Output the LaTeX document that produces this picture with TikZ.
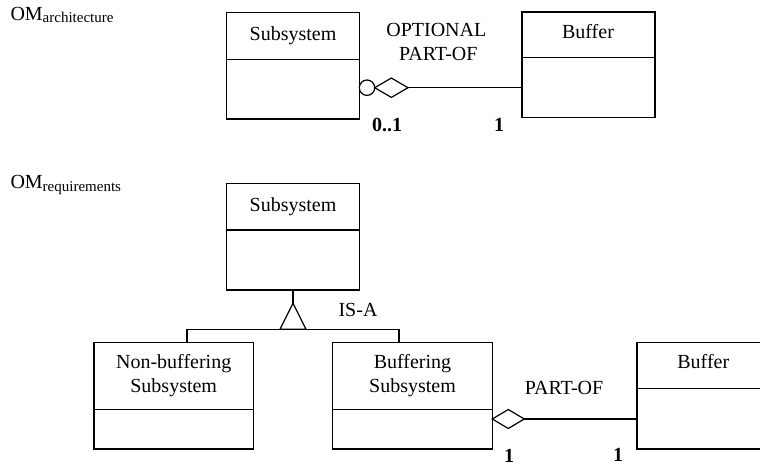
\documentclass[tikz,border=0pt]{standalone}
\usepackage{fontspec}
\setmainfont{Liberation Serif}
\usetikzlibrary{shapes.geometric}
\begin{document}
\begin{tikzpicture}[x=1pt,y=-1pt,
  every node/.style={inner sep=0pt,outer sep=0pt},
  umlbox/.style={draw,line width=1.2pt,rectangle,anchor=north west},
  conn/.style={line width=1.2pt},
  lbl/.style={font=\fontsize{20}{24}\selectfont,text height=13.2pt,text depth=0pt,anchor=center},
  mult/.style={lbl,font=\fontsize{20}{24}\selectfont\bfseries},
  agg/.style={diamond,draw,line width=1.2pt,fill=white,anchor=west},
  title/.style={anchor=base west,font=\fontsize{20}{24}\selectfont}]

% canvas
\fill[white] (0,0) rectangle (760,466);
\useasboundingbox (0,0) rectangle (760,466);

% ---------------- architecture model ----------------
\node[title] (omA) at (10.5,20) {OM\raisebox{-2.8pt}{\fontsize{15}{18}\selectfont architecture}};

\node[umlbox,minimum width=132.6pt,minimum height=106.3pt] (subA) at (226.7,12.7) {};
\draw[conn] ([yshift=-46.6pt]subA.north west) -- ([yshift=-46.6pt]subA.north east);
\node[lbl] (subAt) at (293,33.5) {Subsystem};

\node[umlbox,minimum width=133pt,minimum height=105.7pt] (bufA) at (522,12) {};
\draw[conn] ([yshift=-45.7pt]bufA.north west) -- ([yshift=-45.7pt]bufA.north east);
\node[lbl] (bufAt) at (588,32) {Buffer};

% optional aggregation: small circle, then hollow diamond
\node[circle,draw,line width=1.2pt,minimum size=15.4pt,anchor=west] (optc) at ([yshift=-75pt]subA.north east) {};
\node[agg,minimum width=33.3pt,minimum height=19.4pt] (dA) at (optc.east) {};
\draw[conn] (dA.east) -- (dA.east -| bufA.west);

\node[lbl] (optl1) at (436.3,30) {OPTIONAL};
\node[lbl] (optl2) at (438.3,54) {PART-OF};
\node[mult] (mA1) at (387,124.5) {0..1};
\node[mult] (mA2) at (499,125) {1};

% ---------------- requirements model ----------------
\node[title] (omR) at (10.5,188.3) {OM\raisebox{-3.2pt}{\fontsize{15}{18}\selectfont requirements}};

\node[umlbox,minimum width=132.6pt,minimum height=106.3pt] (subB) at (226.7,183.7) {};
\draw[conn] ([yshift=-46.3pt]subB.north west) -- ([yshift=-46.3pt]subB.north east);
\node[lbl] (subBt) at (293,204.5) {Subsystem};

\node[umlbox,minimum width=159.3pt,minimum height=106.7pt] (nb) at (94,342.3) {};
\draw[conn] ([yshift=-67pt]nb.north west) -- ([yshift=-67pt]nb.north east);
\node[lbl] (nbt1) at (173.7,362.3) {Non-buffering};
\node[lbl] (nbt2) at (173.7,386) {Subsystem};

\node[umlbox,minimum width=159.6pt,minimum height=106.7pt] (bs) at (332.7,342.3) {};
\draw[conn] ([yshift=-67pt]bs.north west) -- ([yshift=-67pt]bs.north east);
\node[lbl] (bst1) at (412.5,362.3) {Buffering};
\node[lbl] (bst2) at (412.5,386.3) {Subsystem};

\node[umlbox,minimum width=133pt,minimum height=106.7pt] (bufB) at (637,342.3) {};
\draw[conn] ([yshift=-46pt]bufB.north west) -- ([yshift=-46pt]bufB.north east);
\node[lbl] (bufBt) at (703.3,362.3) {Buffer};

% generalisation: stem, hollow triangle, bar down to both subclasses
\coordinate (apex) at (293,303.3);
\coordinate (tbase) at (293,329.3);
\draw[conn] (subB.south) -- (apex);
\draw[conn,line join=miter] (apex) -- ([xshift=-13pt]tbase) -- ([xshift=13pt]tbase) -- cycle;
\draw[conn] ([xshift=93pt]nb.north west) |- (tbase) -| ([xshift=66.3pt]bs.north west);
\node[lbl] (isa) at (358,310) {IS-A};

% aggregation Buffering Subsystem -- Buffer
\node[agg,minimum width=32pt,minimum height=19pt] (dB) at ([yshift=-76.7pt]bs.north east) {};
\draw[conn] (dB.east) -- (dB.east -| bufB.west);
\node[lbl] (partof) at (564,388.3) {PART-OF};
\node[mult] (mB1) at (509,455.7) {1};
\node[mult] (mB2) at (618,455) {1};

\end{tikzpicture}
\end{document}
